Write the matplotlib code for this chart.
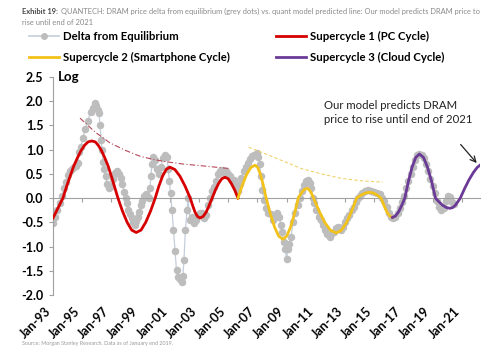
import matplotlib
matplotlib.use("Agg")
import matplotlib.pyplot as plt
from matplotlib.lines import Line2D

plt.rcParams['font.family'] = ['Lato', 'DejaVu Sans']

# grey dots: delta from equilibrium (log)
grey_years = [1993.0, 1993.15, 1993.3, 1993.45, 1993.6, 1993.75, 1993.9, 1994.0, 1994.15, 1994.3,
              1994.45, 1994.6, 1994.7, 1994.8, 1994.9, 1995.05, 1995.22, 1995.4, 1995.57, 1995.74,
              1995.88, 1995.95, 1996.05, 1996.15, 1996.22, 1996.3, 1996.36, 1996.42, 1996.5, 1996.6,
              1996.7, 1996.85, 1997.0, 1997.1, 1997.25, 1997.4, 1997.52, 1997.66, 1997.76, 1997.86,
              1997.97, 1998.07, 1998.17, 1998.27, 1998.4, 1998.5, 1998.6, 1998.7, 1998.8, 1998.9,
              1999.0, 1999.1, 1999.2, 1999.35, 1999.5, 1999.58, 1999.65, 1999.7, 1999.78, 1999.85,
              1999.98, 2000.12, 2000.26, 2000.4, 2000.53, 2000.67, 2000.8, 2000.9, 2000.97, 2001.05,
              2001.15, 2001.25, 2001.36, 2001.46, 2001.56, 2001.7, 2001.84, 2001.9, 2001.97, 2002.07,
              2002.18, 2002.25, 2002.38, 2002.52, 2002.66, 2002.8, 2002.93, 2003.07, 2003.2, 2003.34,
              2003.48, 2003.62, 2003.75, 2003.9, 2004.03, 2004.16, 2004.3, 2004.44, 2004.58, 2004.7,
              2004.85, 2004.99, 2005.12, 2005.26, 2005.4, 2005.53, 2005.67, 2005.8, 2005.9, 2006.05,
              2006.2, 2006.35, 2006.5, 2006.65, 2006.8, 2006.95, 2007.05, 2007.15, 2007.25, 2007.35,
              2007.45, 2007.6, 2007.75, 2007.9, 2008.05, 2008.2, 2008.35, 2008.5, 2008.6, 2008.7,
              2008.8, 2008.9, 2009.0, 2009.1, 2009.2, 2009.3, 2009.45, 2009.6, 2009.75, 2009.9,
              2010.05, 2010.2, 2010.35, 2010.5, 2010.6, 2010.7, 2010.8, 2010.9, 2011.05, 2011.2,
              2011.35, 2011.5, 2011.65, 2011.8, 2011.95, 2012.1, 2012.25, 2012.4, 2012.55, 2012.7,
              2012.85, 2013.0, 2013.15, 2013.3, 2013.45, 2013.6, 2013.75, 2013.9, 2014.05, 2014.2,
              2014.4, 2014.6, 2014.8, 2015.0, 2015.2, 2015.4, 2015.55, 2015.7, 2015.85, 2016.0,
              2016.15, 2016.3, 2016.45, 2016.6, 2016.75, 2016.9, 2017.05, 2017.2, 2017.35, 2017.5,
              2017.65, 2017.8, 2017.95, 2018.1, 2018.25, 2018.4, 2018.55, 2018.7, 2018.85, 2019.0,
              2019.15, 2019.3, 2019.45, 2019.6, 2019.75, 2019.9, 2020.05, 2020.2, 2020.35, 2020.5]
grey_vals = [-0.52, -0.38, -0.25, -0.1, 0.05, 0.2, 0.33, 0.48, 0.55, 0.6,
             0.64, 0.66, 0.72, 0.95, 1.05, 1.25, 1.42, 1.6, 1.78, 1.86,
             1.96, 1.9, 1.82, 1.76, 1.5, 1.2, 1.0, 0.75, 0.6, 0.45,
             0.3, 0.2, 0.25, 0.4, 0.52, 0.56, 0.5, 0.42, 0.3, 0.12,
             0.0, -0.1, -0.25, -0.32, -0.42, -0.5, -0.55, -0.48, -0.4, -0.28,
             -0.15, -0.05, 0.05, 0.08, 0.02, 0.0, 0.2, 0.45, 0.7, 0.85,
             0.78, 0.6, 0.5, 0.65, 0.82, 0.9, 0.85, 0.6, 0.35, 0.1,
             -0.25, -0.66, -1.1, -1.49, -1.62, -1.68, -1.74, -1.6, -1.28, -0.66,
             -0.25, 0.0, -0.45, -0.4, -0.52, -0.45, -0.35, -0.31, -0.3, -0.42,
             -0.35, -0.15, 0.0, 0.15, 0.22, 0.35, 0.5, 0.55, 0.58, 0.52,
             0.56, 0.5, 0.45, 0.35, 0.37, 0.25, 0.15, 0.3, 0.41, 0.55,
             0.65, 0.72, 0.8, 0.87, 0.9, 0.93, 0.85, 0.7, 0.45, 0.17,
             -0.04, -0.2, -0.3, -0.32, -0.45, -0.38, -0.3, -0.38, -0.55, -0.7,
             -0.9, -1.05, -1.25, -1.05, -0.95, -0.8, -0.5, -0.3, -0.15, 0.0,
             0.15, 0.28, 0.35, 0.37, 0.32, 0.2, 0.0, -0.1, -0.25, -0.4,
             -0.45, -0.55, -0.65, -0.75, -0.8, -0.72, -0.7, -0.62, -0.6, -0.65,
             -0.6, -0.5, -0.42, -0.35, -0.25, -0.18, -0.08, 0.0, 0.05, 0.1,
             0.15, 0.16, 0.15, 0.12, 0.1, 0.08, 0.0, -0.06, -0.18, -0.3,
             -0.38, -0.42, -0.4, -0.3, -0.2, -0.08, 0.05, 0.2, 0.35, 0.5,
             0.65, 0.78, 0.88, 0.92, 0.9, 0.82, 0.7, 0.55, 0.4, 0.25,
             0.1, -0.05, -0.18, -0.25, -0.2, -0.05, 0.05, 0.02, -0.08, -0.12]

# Supercycle 1 (PC)
sc1_years = [1993.0, 1993.35, 1993.68, 1993.92, 1994.17, 1994.42, 1994.67, 1994.92, 1995.16, 1995.4,
             1995.65, 1995.9, 1996.1, 1996.32, 1996.55, 1996.78, 1997.0, 1997.22, 1997.45, 1997.76,
             1998.08, 1998.39, 1998.7, 1999.03, 1999.35, 1999.68, 2000.0, 2000.25, 2000.5, 2000.75,
             2001.0, 2001.35, 2001.7, 2002.05, 2002.4, 2002.57, 2002.73, 2002.9, 2003.07, 2003.28,
             2003.49, 2003.69, 2003.9, 2004.12, 2004.34, 2004.56, 2004.78, 2005.0, 2005.22, 2005.45,
             2005.67]
sc1_vals = [-0.41, -0.2, 0.0, 0.23, 0.45, 0.66, 0.83, 0.98, 1.09, 1.16,
            1.18, 1.16, 1.09, 0.98, 0.83, 0.66, 0.45, 0.23, 0.0, -0.27,
            -0.5, -0.66, -0.71, -0.66, -0.5, -0.27, 0.0, 0.245, 0.45, 0.59,
            0.64, 0.59, 0.45, 0.245, 0.0, -0.157, -0.29, -0.38, -0.41, -0.38,
            -0.29, -0.157, 0.0, 0.165, 0.3, 0.4, 0.43, 0.4, 0.3, 0.165,
            0.0]

# Supercycle 2 (Smartphone)
sc2_years = [2005.67, 2005.96, 2006.25, 2006.55, 2006.84, 2007.03, 2007.22, 2007.41, 2007.6, 2007.89,
             2008.18, 2008.46, 2008.75, 2009.01, 2009.27, 2009.54, 2009.8, 2009.95, 2010.1, 2010.25,
             2010.4, 2010.51, 2010.62, 2010.74, 2010.85, 2011.24, 2011.63, 2012.01, 2012.4, 2012.75,
             2013.1, 2013.45, 2013.8, 2014.02, 2014.25, 2014.47, 2014.7, 2014.89, 2015.08, 2015.28,
             2015.47, 2015.67, 2015.86, 2016.06, 2016.25]
sc2_vals = [0.0, 0.26, 0.48, 0.63, 0.68, 0.63, 0.48, 0.26, 0.0, -0.325,
            -0.6, -0.785, -0.85, -0.785, -0.6, -0.325, 0.0, 0.077, 0.14, 0.185,
            0.2, 0.185, 0.14, 0.077, 0.0, -0.275, -0.51, -0.665, -0.72, -0.665,
            -0.51, -0.275, 0.0, 0.046, 0.085, 0.11, 0.12, 0.11, 0.085, 0.046,
            0.0, -0.15, -0.28, -0.37, -0.4]

# Supercycle 3 (Cloud)
sc3_years = [2016.25, 2016.46, 2016.68, 2016.89, 2017.1, 2017.35, 2017.6, 2017.85, 2018.1, 2018.38,
             2018.65, 2018.93, 2019.2, 2019.45, 2019.7, 2019.95, 2020.2, 2020.38, 2020.55, 2020.72,
             2020.9, 2021.2, 2021.5, 2021.8, 2022.05, 2022.25]
sc3_vals = [-0.4, -0.37, -0.28, -0.15, 0.0, 0.35, 0.64, 0.84, 0.91, 0.84,
            0.64, 0.35, 0.0, -0.08, -0.15, -0.195, -0.21, -0.195, -0.15, -0.08,
            0.0, 0.2, 0.38, 0.53, 0.63, 0.68]

# peak trend lines
trend1_years = [1994.85, 1995.9, 1996.9, 1998.0, 1999.0, 2000.0, 2001.0, 2002.0, 2003.1, 2005.1]
trend1_vals = [1.65, 1.36, 1.14, 0.98, 0.86, 0.79, 0.74, 0.7, 0.67, 0.61]
trend2_years = [2006.4, 2007.5, 2008.8, 2010.1, 2011.4, 2012.7, 2014.0, 2015.6]
trend2_vals = [1.05, 0.92, 0.76, 0.6, 0.5, 0.41, 0.36, 0.33]

tick_years = list(range(1993, 2022, 2))
tick_labels = ['Jan-%02d' % (y % 100) for y in tick_years]

RED = '#d60000'
YEL = '#f2c21b'
PUR = '#6b3a96'

fig = plt.figure(figsize=(5.0, 3.53), dpi=100)
ax = fig.add_axes([0.106, 0.1643, 0.854, 0.6176])

ax.plot(grey_years, grey_vals, color='#c3cedb', lw=0.9, zorder=2,
        marker='o', markersize=4.4, markerfacecolor='#bdbdbd', markeredgecolor='#bdbdbd')
ax.plot(trend1_years, trend1_vals, color='#b5485a', lw=0.8, ls=(0, (5, 2, 1, 2)), zorder=3)
ax.plot(trend2_years, trend2_vals, color='#f0d36a', lw=0.8, ls=(0, (3, 2)), zorder=3)
ax.plot(sc1_years, sc1_vals, color=RED, lw=2.0, zorder=4)
ax.plot(sc2_years, sc2_vals, color=YEL, lw=2.0, zorder=4)
ax.plot(sc3_years, sc3_vals, color=PUR, lw=2.0, zorder=4)

ax.set_xlim(1993, 2022.25)
ax.set_ylim(-2.0, 2.5)
ax.set_yticks([2.5, 2.0, 1.5, 1.0, 0.5, 0.0, -0.5, -1.0, -1.5, -2.0])
ax.set_yticklabels(['2.5', '2.0', '1.5', '1.0', '0.5', '0.0', '-0.5', '-1.0', '-1.5', '-2.0'],
                   fontweight='bold', fontsize=9)
ax.tick_params(axis='y', length=3, color='#a0a0a0', pad=4)

for s in ['top', 'right']:
    ax.spines[s].set_visible(False)
ax.spines['left'].set_color('#a0a0a0')
ax.spines['bottom'].set_position(('data', 0))
ax.spines['bottom'].set_color('#a0a0a0')
ax.set_xticks(tick_years)
ax.tick_params(axis='x', length=3, color='#a0a0a0', labelbottom=False)

sec = ax.secondary_xaxis('bottom')
sec.set_xticks(tick_years)
sec.set_xticklabels(tick_labels, rotation=45, ha='right', fontweight='bold', fontsize=9)
sec.tick_params(length=0, pad=7)
sec.spines['bottom'].set_visible(False)

ax.text(1993.3, 2.5, 'Log', fontweight='bold', fontsize=9.5, va='center', ha='left')

ax.text(2011.55, 1.77, 'Our model predicts DRAM\nprice to rise until end of 2021',
        fontsize=8.2, color='#222222', va='center', ha='left', linespacing=1.3)
ax.annotate('', xy=(2022.15, 0.68), xytext=(2020.8, 1.15),
            arrowprops=dict(arrowstyle='->', color='#222222', lw=0.9))

h1 = Line2D([], [], color='#c3cedb', lw=1.2, marker='o', markersize=4,
            markerfacecolor='#bdbdbd', markeredgecolor='#bdbdbd')
h2 = Line2D([], [], color=RED, lw=2)
h3 = Line2D([], [], color=YEL, lw=2)
h4 = Line2D([], [], color=PUR, lw=2)
leg_kw = dict(frameon=False, loc='upper left', borderaxespad=0, borderpad=0,
              handlelength=2.6, handletextpad=0.35, labelspacing=0.85,
              prop={'weight': 'bold', 'size': 8.2})
leg1 = fig.legend([h1, h3], ['Delta from Equilibrium', 'Supercycle 2 (Smartphone Cycle)'],
                  bbox_to_anchor=(0.058, 0.912), **leg_kw)
leg2 = fig.legend([h2, h4], ['Supercycle 1 (PC Cycle)', 'Supercycle 3 (Cloud Cycle)'],
                  bbox_to_anchor=(0.552, 0.912), **leg_kw)

fig.text(0.044, 0.968, 'Exhibit 19:', fontsize=5.4, fontweight='bold', color='#444444', va='center')
fig.text(0.122, 0.968, 'QUANTECH: DRAM price delta from equilibrium (grey dots) vs. quant model '
         'predicted line: Our model predicts DRAM price to', fontsize=5.4, color='#8a8a8a', va='center')
fig.text(0.044, 0.935, 'rise until end of 2021', fontsize=5.4, color='#8a8a8a', va='center')
fig.text(0.044, 0.028, 'Source: Morgan Stanley Research. Data as of January end 2019.',
         fontsize=3.9, color='#9a9a9a', va='center')

fig.savefig('out.png', dpi=100)
